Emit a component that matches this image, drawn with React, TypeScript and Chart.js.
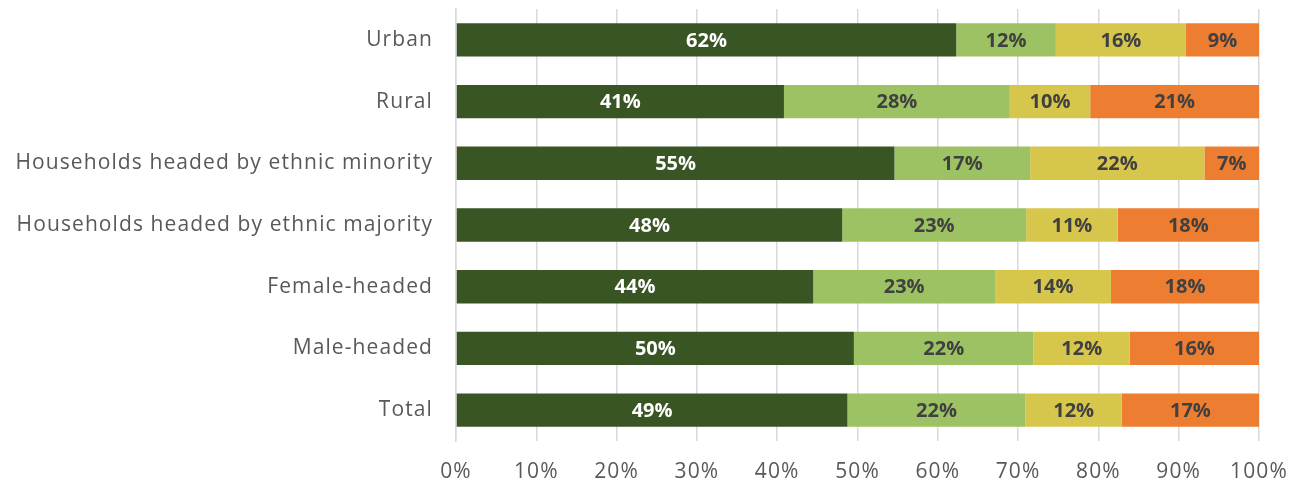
import React, { useEffect, useRef } from "react";
import { Chart, registerables } from "chart.js";

Chart.register(...registerables);

const categories = [
  "Urban",
  "Rural",
  "Households headed by ethnic minority",
  "Households headed by ethnic majority",
  "Female-headed",
  "Male-headed",
  "Total",
];

const series1 = [62.3, 40.8, 54.6, 48.1, 44.4, 49.6, 48.8];
const series2 = [12.4, 28.1, 16.9, 22.9, 22.6, 22.4, 22.2];
const series3 = [16.2, 10.0, 21.7, 11.4, 14.4, 12.0, 12.0];
const series4 = [9.1, 21.0, 6.8, 17.6, 18.4, 16.1, 17.1];

const xTicks = [0, 10, 20, 30, 40, 50, 60, 70, 80, 90, 100];

const colors = ["#3a5524", "#9dc263", "#d7c64c", "#ed7d31"];
const labelColors = ["#ffffff", "#404040", "#404040", "#404040"];

const FONT = "'Open Sans', sans-serif";
const SPACING = "1.1px";

export default function App() {
  const ref = useRef<HTMLCanvasElement | null>(null);

  useEffect(() => {
    const all = [series1, series2, series3, series4];
    const sums = categories.map((_, i) => all.reduce((s, a) => s + a[i], 0));
    const datasets = all.map((arr, k) => ({
      label: "S" + (k + 1),
      data: arr.map((v, i) => (v / sums[i]) * 100),
      raw: arr,
      backgroundColor: colors[k],
      borderWidth: 0,
      categoryPercentage: 1,
      barPercentage: 0.54,
    }));

    const spacingPlugin = {
      id: "spacing",
      beforeInit(chart: any) {
        chart.ctx.letterSpacing = SPACING;
      },
      beforeLayout(chart: any) {
        chart.ctx.letterSpacing = SPACING;
      },
      beforeDraw(chart: any) {
        chart.ctx.letterSpacing = SPACING;
      },
    };

    const labelPlugin = {
      id: "barLabels",
      afterDatasetsDraw(chart: any) {
        const ctx = chart.ctx;
        ctx.save();
        ctx.letterSpacing = "0px";
        ctx.font = `bold 20px ${FONT}`;
        ctx.textAlign = "center";
        ctx.textBaseline = "middle";
        chart.data.datasets.forEach((ds: any, k: number) => {
          const meta = chart.getDatasetMeta(k);
          meta.data.forEach((bar: any, i: number) => {
            const v = ds.raw[i];
            ctx.fillStyle = labelColors[k];
            ctx.fillText(Math.round(v) + "%", (bar.x + bar.base) / 2, bar.y + 1);
          });
        });
        ctx.restore();
      },
    };

    const chart = new Chart(ref.current!, {
      type: "bar",
      data: { labels: categories, datasets: datasets as any },
      plugins: [spacingPlugin, labelPlugin],
      options: {
        indexAxis: "y",
        responsive: false,
        animation: false,
        layout: { padding: { top: 9, right: 30, left: 0, bottom: 0 } },
        plugins: {
          legend: { display: false },
          tooltip: { enabled: false },
        },
        scales: {
          x: {
            stacked: true,
            min: 0,
            max: 100,
            afterBuildTicks: (scale: any) => {
              scale.ticks = xTicks.map((v) => ({ value: v }));
            },
            afterFit: (scale: any) => {
              scale.height = 42;
              scale.paddingLeft = 0;
              scale.paddingRight = 0;
            },
            grid: {
              color: "#d9d9d9",
              lineWidth: 1.5,
              drawTicks: false,
            },
            border: { display: false },
            ticks: {
              padding: 18,
              color: "#595959",
              font: { family: FONT, size: 21 },
              callback: (v: any) => v + "%",
            },
          },
          y: {
            stacked: true,
            afterFit: (scale: any) => {
              scale.width = 456;
              scale.paddingTop = 0;
              scale.paddingBottom = 0;
            },
            grid: { display: false, drawTicks: false },
            border: { display: true, color: "#d9d9d9", width: 1.5 },
            ticks: {
              padding: 23,
              color: "#595959",
              font: { family: FONT, size: 21 },
            },
          },
        },
      },
    });
    return () => chart.destroy();
  }, []);

  return (
    <div style={{ position: "absolute", left: 0, top: 0, width: 1289, height: 483, background: "#fff" }}>
      <canvas ref={ref} width={1289} height={483} />
    </div>
  );
}
